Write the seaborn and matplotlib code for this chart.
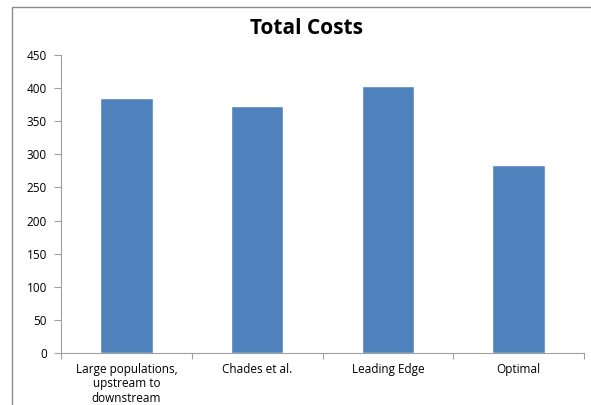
import matplotlib
matplotlib.use("Agg")
import matplotlib.pyplot as plt
import seaborn as sns
import pandas as pd
from matplotlib.lines import Line2D

categories = ["Large populations,\nupstream to\ndownstream", "Chades et al.", "Leading Edge", "Optimal"]
costs = [385, 373, 403, 284]
y_ticks = [0, 50, 100, 150, 200, 250, 300, 350, 400, 450]

df = pd.DataFrame({"strategy": categories, "cost": costs})

sns.set_theme(style="white")
plt.rcParams['font.family'] = ['Open Sans', 'DejaVu Sans']

fig = plt.figure(figsize=(5.91, 4.05), dpi=100)
ax = fig.add_axes([61 / 591, 1 - 353 / 405, (584 - 61) / 591, (353 - 55) / 405])

sns.barplot(data=df, x="strategy", y="cost", color="#4F81BD", width=0.4,
            saturation=1, ax=ax)

ax.set_ylim(0, 450)
ax.set_xlim(-0.5, len(categories) - 0.5)
ax.set_yticks(y_ticks)
ax.set_xlabel("")
ax.set_ylabel("")
ax.tick_params(axis="y", labelsize=8.5, length=5, width=0.8, color="#a0a0a0",
               direction="out", left=True, pad=5, labelcolor="black")
ax.tick_params(axis="x", labelsize=8.5, length=0, pad=7, labelcolor="black")
for lab in ax.get_xticklabels():
    lab.set_linespacing(1.15)

# category boundary ticks on x axis
ax.set_xticks([i + 0.5 for i in range(-1, len(categories))], minor=True)
ax.tick_params(axis="x", which="minor", length=4, width=0.8, color="#a0a0a0",
               direction="out", bottom=True)

for side in ["top", "right"]:
    ax.spines[side].set_visible(False)
for side in ["left", "bottom"]:
    ax.spines[side].set_color("#a0a0a0")
    ax.spines[side].set_linewidth(0.8)

fig.text(306 / 591, 1 - 29 / 405, "Total Costs", ha="center", va="center",
         fontsize=15, fontweight="bold", color="black")

# outer chart frame
fig.add_artist(Line2D([12 / 591, 12 / 591], [0, 1 - 7 / 405], transform=fig.transFigure,
                      color="#8c8c8c", linewidth=1))
fig.add_artist(Line2D([12 / 591, 1], [1 - 7 / 405, 1 - 7 / 405], transform=fig.transFigure,
                      color="#8c8c8c", linewidth=1))

fig.savefig("out.png", dpi=100)
